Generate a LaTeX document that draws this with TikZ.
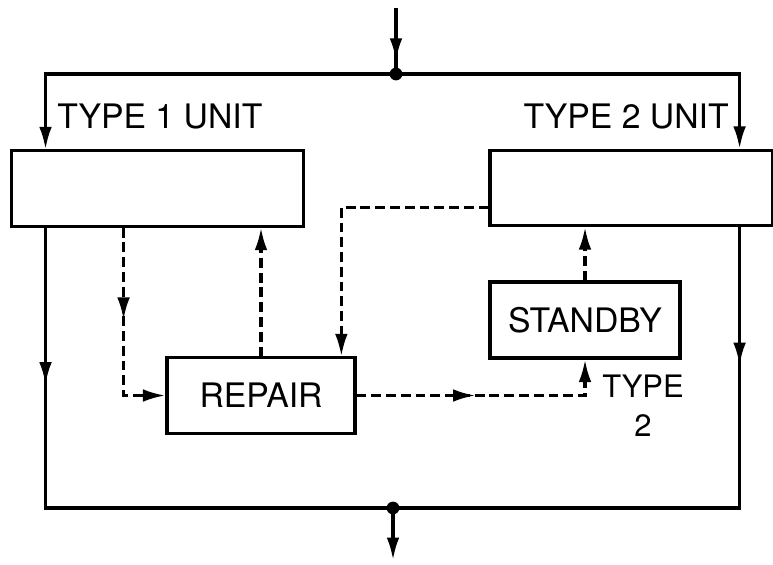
\documentclass[tikz,border=0pt]{standalone}
\usepackage{fontspec}
\setmainfont{TeX Gyre Heros}
\usetikzlibrary{arrows.meta, positioning, decorations.markings}

\tikzset{
  unitbox/.style={draw, line width=2.2pt, inner sep=0pt, minimum height=1.88cm,
    font=\fontsize{24}{26}\selectfont},
  wire/.style={line width=2.2pt},
  flow/.style={wire, -{Latex[length=16pt,width=9pt]}},
  repflow/.style={flow, dash pattern=on 7pt off 3.5pt},
  midarrow/.style={postaction={decorate}, decoration={markings,
    mark=at position #1 with {\arrow{Latex[length=16pt,width=9pt]}}}},
  junction/.style={circle, fill, inner sep=0pt, minimum size=0.32cm},
  lbl/.style={font=\fontsize{24}{26}\selectfont, inner sep=0pt}
}

\begin{document}
\begin{tikzpicture}[x=0.025cm, y=-0.025cm]
  \useasboundingbox (0,0) rectangle (773,564);

  \node[unitbox, minimum width=7.28cm] (unitA) at (157.5,188.5) {};
  \node[unitbox, minimum width=7.05cm] (unitB) at (631,188) {};
  \node[unitbox, minimum width=4.7cm] (repair) at (261,395.5) {REPAIR};
  \node[unitbox, minimum width=4.75cm, minimum height=1.9cm] (standby) at (585,320) {STANDBY};

  \node[lbl, anchor=base west] (labA) at (57,129) {TYPE 1 UNIT};
  \node[lbl, anchor=base east] (labB) at (729,129) {TYPE 2 UNIT};
  \node[lbl, align=center, font=\fontsize{22}{28}\selectfont] (labS) at (643,406) {TYPE\\2};

  \node[junction] (jtop) at (396,74) {};
  \node[junction] (jbot) at (393,508) {};
  \coordinate (in) at (396,8);
  \coordinate (out) at (393,560);

  % main flow
  \draw[wire, midarrow=0.8] (in) -- (jtop.center);
  \draw[flow] (jtop.center) -| ([xshift=0.88cm]unitA.north west);
  \draw[flow] (jtop.center) -| ([xshift=-0.85cm]unitB.north east);
  \draw[wire, midarrow=0.25] ([xshift=0.88cm]unitA.south west) |- (jbot.center);
  \draw[wire, midarrow=0.22] ([xshift=-0.85cm]unitB.south east) |- (jbot.center);
  \draw[flow] (jbot.center) -- (out);

  % repair loop
  \draw[repflow, midarrow=0.44] ([xshift=2.83cm]unitA.south west) |- (repair.west);
  \draw[repflow] (repair.north) -- (repair.north |- unitA.south);
  \draw[repflow] ([yshift=-0.48cm]unitB.west) -| ([xshift=-0.38cm]repair.north east);
  \draw[repflow, midarrow=0.45] (repair.east) -| (standby.south);
  \draw[repflow] (standby.north) -- (standby.north |- unitB.south);
\end{tikzpicture}
\end{document}
